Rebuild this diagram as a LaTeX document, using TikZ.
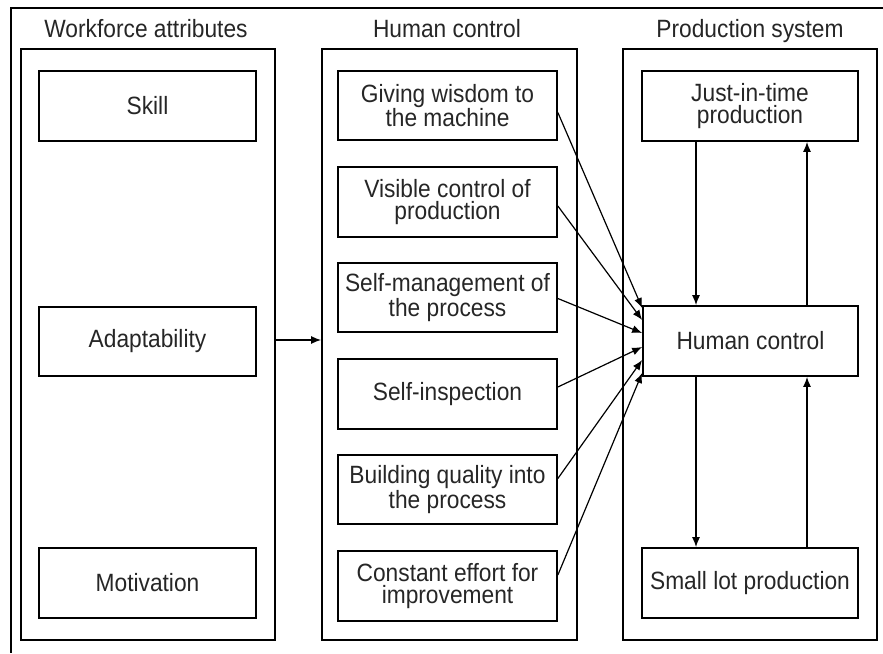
\documentclass[tikz,border=0pt]{standalone}
\usepackage{fontspec}
\setmainfont{Liberation Sans}[FakeStretch=0.91]
\usetikzlibrary{arrows.meta,calc}
\begin{document}
\begin{tikzpicture}[x=1pt,y=-1pt,
  font=\fontsize{25}{22.5}\selectfont,
  box/.style={draw=black,line width=1.7pt,inner sep=0pt,align=center,text=black!85},
  cont/.style={draw=black,line width=1.7pt,inner sep=0pt},
  ttl/.style={anchor=base,inner sep=0pt,text=black!85},
  arr/.style={line width=1.4pt,-{Latex[length=10pt,width=8pt]}},
  darr/.style={line width=1.2pt,-{Latex[length=10pt,width=8pt]}}]
\useasboundingbox (0,0) rectangle (883,653);
% outer frame (top and left only)
\coordinate (fTL) at (11,8);
\coordinate (fTR) at (883,8);
\coordinate (fBL) at (11,653);
\draw[line width=2.8pt] (fTR) -- (fTL) -- (fBL);
% containers
\node[cont,minimum width=254pt,minimum height=591pt] (cL) at (148,344.5) {};
\node[cont,minimum width=255pt,minimum height=591pt] (cM) at (449.5,344.5) {};
\node[cont,minimum width=254pt,minimum height=591pt] (cR) at (750,344.5) {};
% titles
\node[ttl] (tL) at (146,37) {Workforce attributes};
\node[ttl] (tM) at (447,37) {Human control};
\node[ttl] (tR) at (750,37) {Production system};
% left boxes
\node[box,minimum width=217pt,minimum height=70pt] (sk) at (147.5,106) {Skill};
\node[box,minimum width=217pt,minimum height=69pt] (ad) at (147.5,341.5) {Adaptability};
\node[box,minimum width=217pt,minimum height=70pt] (mo) at (147.5,583) {Motivation};
% middle boxes
\node[box,minimum width=219pt,minimum height=69pt] (gw) at (447.5,105.5) {Giving wisdom to\\the machine};
\node[box,minimum width=219pt,minimum height=70pt] (vc) at (447.5,202) {Visible control of\\production};
\node[box,minimum width=219pt,minimum height=69pt] (sm) at (447.5,297.5) {Self-management of\\the process};
\node[box,minimum width=219pt,minimum height=70pt] (si) at (447.5,394) {Self-inspection};
\node[box,minimum width=219pt,minimum height=69pt] (bq) at (447.5,489.5) {Building quality into\\the process};
\node[box,minimum width=219pt,minimum height=70pt] (ce) at (447.5,586) {Constant effort for\\improvement};
% right boxes
\node[box,minimum width=216pt,minimum height=70pt] (jit) at (750,106) {Just-in-time\\production};
\node[box,minimum width=215pt,minimum height=70pt] (hc) at (750.5,341) {Human control};
\node[box,minimum width=216pt,minimum height=70pt] (sl) at (750,583) {Small lot production};
% left to middle
\draw[arr] (cL.east |- 0,340) -- (cM.west |- 0,340);
% middle to human control
\draw[darr] ($(gw.east)+(0,7)$) -- ($(hc.west)+(0,-33)$);
\draw[darr] ($(vc.east)+(0,4)$) -- ($(hc.west)+(0,-21)$);
\draw[darr] ($(sm.east)+(0,1)$) -- ($(hc.west)+(0,-8)$);
\draw[darr] ($(si.east)+(0,-7)$) -- ($(hc.west)+(0,6)$);
\draw[darr] ($(bq.east)+(0,-11)$) -- ($(hc.west)+(0,19)$);
\draw[darr] ($(ce.east)+(0,-11)$) -- ($(hc.west)+(0,32)$);
% vertical loops
\draw[arr] (jit.south -| 696,0) -- (hc.north -| 696,0);
\draw[arr] (hc.south -| 696,0) -- (sl.north -| 696,0);
\draw[arr] (sl.north -| 807,0) -- (hc.south -| 807,0);
\draw[arr] (hc.north -| 807,0) -- (jit.south -| 807,0);
\end{tikzpicture}
\end{document}
